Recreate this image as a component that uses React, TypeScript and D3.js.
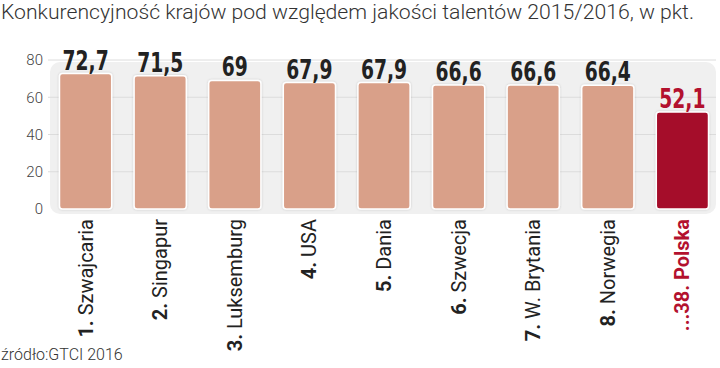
import React from 'react'
import * as d3 from 'd3'

const title = 'Konkurencyjność krajów pod względem jakości talentów 2015/2016, w pkt.'
const source = 'źródło:GTCI 2016'
const ranks = ['1.', '2.', '3.', '4.', '5.', '6.', '7.', '8.', '...38.']
const countries = ['Szwajcaria', 'Singapur', 'Luksemburg', 'USA', 'Dania', 'Szwecja', 'W. Brytania', 'Norwegia', 'Polska']
const values = [72.7, 71.5, 69, 67.9, 67.9, 66.6, 66.6, 66.4, 52.1]
const valueLabels = ['72,7', '71,5', '69', '67,9', '67,9', '66,6', '66,6', '66,4', '52,1']
const yTicks = [0, 20, 40, 60, 80]
const highlight = 'Polska'

const W = 720
const H = 368

export default function App() {
  const x = d3.scaleBand<string>().domain(countries).range([48, 720]).paddingInner(0.3).paddingOuter(0.154)
  const y = d3.scaleLinear().domain([0, 80]).range([209, 60])

  const barColor = (c: string) => (c === highlight ? '#a50d2a' : '#d9a089')
  const textColor = (c: string) => (c === highlight ? '#b3112e' : '#222')

  return (
    <svg width={W} height={H} style={{ position: 'absolute', left: 0, top: 0, background: '#fff' }}>
      <defs>
        <filter id="sh" x="-20%" y="-20%" width="140%" height="140%">
          <feDropShadow dx="0" dy="0" stdDeviation="1.2" floodColor="#000" floodOpacity="0.18" />
        </filter>
      </defs>
      <text x={1} y={19} fontFamily="Roboto" fontWeight={300} fontSize={20} fill="#333" textLength={693} lengthAdjust="spacingAndGlyphs">
        {title}
      </text>

      {/* panel */}
      <rect x={50} y={62} width={666} height={152} rx={10} fill="#f0f0f0" />

      {yTicks.map(t => (
        <g key={t}>
          {t > 0 && <line x1={48} x2={716} y1={y(t)} y2={y(t)} stroke="#dcdcdc" strokeWidth={1} />}
          <text x={43} y={y(t)} dy="0.35em" textAnchor="end" fontFamily="Roboto" fontWeight={300} fontSize={15} fill="#444">
            {t}
          </text>
        </g>
      ))}

      {countries.map((c, i) => {
        const bx = x(c) as number
        const bw = x.bandwidth()
        const top = y(values[i])
        const cx = bx + bw / 2
        return (
          <g key={c}>
            <rect x={bx} y={top} width={bw} height={y(0) - top} rx={3} fill={barColor(c)} stroke="#fff" strokeWidth={1.5} filter="url(#sh)" />
            <text
              transform={`translate(${cx},${top - 4}) scale(0.8,1)`}
              textAnchor="middle"
              fontFamily="DejaVu Sans Condensed"
              fontWeight={700}
              fontSize={26}
              fill={textColor(c)}
            >
              {valueLabels[i]}
            </text>
            <text
              transform={`translate(${cx + 7},219) rotate(-90)`}
              textAnchor="end"
              fontFamily="Roboto"
              fontSize={20}
              fill={textColor(c)}
              fontWeight={c === highlight ? 700 : 400}
            >
              <tspan fontWeight={700}>{ranks[i]}</tspan> {countries[i]}
            </text>
          </g>
        )
      })}

      <text x={1} y={360} fontFamily="Roboto" fontWeight={300} fontSize={16} fill="#333">
        {source}
      </text>
    </svg>
  )
}
